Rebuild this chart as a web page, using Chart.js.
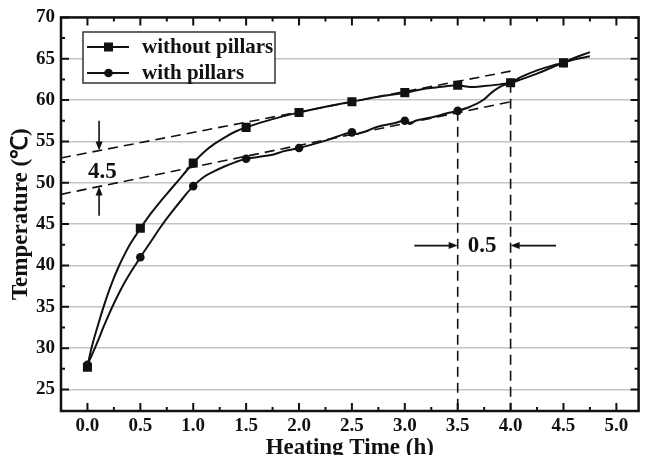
<html>
<head>
<meta charset="UTF-8">
<title>Heating Time vs Temperature</title>
<style>
body { margin: 0; padding: 0; background: white; overflow: hidden; }
canvas { display: block; }
</style>
<script src="https://cdn.jsdelivr.net/npm/chart.js@4.4.0/dist/chart.umd.min.js"></script>
</head>
<body>
<canvas id="canvas" width="645" height="455"></canvas>
<script>
const woTime = [0, 0.025, 0.05, 0.1, 0.15, 0.2, 0.25, 0.3, 0.35, 0.4, 0.45, 0.5, 0.6, 0.7, 0.8, 0.9, 1.0, 1.1, 1.2, 1.3, 1.4, 1.5, 1.75, 2.0, 2.25, 2.5, 2.75, 3.0, 3.2, 3.35, 3.5, 3.6, 3.75, 3.9, 4.0, 4.1, 4.25, 4.4, 4.5, 4.6, 4.75]
const woTemp = [27.7, 29.3, 30.6, 32.8, 34.9, 36.8, 38.5, 40.0, 41.3, 42.5, 43.5, 44.5, 46.3, 47.9, 49.4, 50.9, 52.4, 53.7, 54.7, 55.5, 56.2, 56.7, 57.7, 58.5, 59.2, 59.8, 60.4, 60.9, 61.4, 61.6, 61.8, 61.6, 61.7, 61.9, 62.1, 62.5, 63.2, 64.0, 64.5, 64.9, 65.3]
const wTime = [0, 0.025, 0.05, 0.1, 0.15, 0.2, 0.25, 0.3, 0.35, 0.4, 0.45, 0.5, 0.6, 0.7, 0.8, 0.9, 1.0, 1.1, 1.2, 1.3, 1.4, 1.5, 1.6, 1.75, 1.85, 2.0, 2.25, 2.5, 2.55, 2.75, 2.9, 3.0, 3.05, 3.1, 3.25, 3.4, 3.5, 3.6, 3.67, 3.75, 3.82, 3.9, 4.0, 4.1, 4.25, 4.4, 4.5, 4.6, 4.75]
const wTemp = [28.0, 28.7, 29.4, 30.9, 32.5, 34.0, 35.4, 36.7, 37.9, 39.0, 40.0, 41.0, 42.9, 44.8, 46.5, 48.1, 49.6, 50.7, 51.4, 52.0, 52.5, 52.9, 53.1, 53.4, 53.8, 54.2, 55.1, 56.1, 55.9, 56.8, 57.2, 57.5, 57.1, 57.5, 57.9, 58.4, 58.7, 59.1, 59.5, 60.1, 60.9, 61.6, 62.1, 62.8, 63.6, 64.2, 64.5, 65.1, 65.8]

// symbols every 0.5 h
const markTime = [0, 0.5, 1.0, 1.5, 2.0, 2.5, 3.0, 3.5, 4.0, 4.5]
const woMark = [27.7, 44.5, 52.4, 56.7, 58.5, 59.8, 60.9, 61.8, 62.1, 64.5]
const wMark = [28.0, 41.0, 49.6, 52.9, 54.2, 56.1, 57.5, 58.7, 62.1, 64.5]

// dashed tangent lines and vertical guides
const tanTime = [-0.25, 4.0]
const tanUpper = [53.0, 63.5]
const tanLower = [48.6, 59.8]
const guideTime = [3.5, 4.0]
const guideTop = [58.7, 62.1]

// annotations
const diffText = "4.5", diffPos = [0.14, 51.3]
const diffArrowT = 0.11, diffFrom = [57.5, 46.0], diffTo = [53.9, 49.55]
const lagText = "0.5", lagPos = [3.73, 42.3]
const lagArrowY = 42.4, lagFrom = [3.09, 4.43], lagTo = [3.5, 4.0]

const xTicks = [0, 0.5, 1.0, 1.5, 2.0, 2.5, 3.0, 3.5, 4.0, 4.5, 5.0]
const yTicks = [25, 30, 35, 40, 45, 50, 55, 60, 65, 70]
const xMin = -0.25, xMax = 5.21, yMin = 22.4, yMax = 70

const serif = "'Liberation Serif', 'Times New Roman', serif"
const ink = "#111"

function pts(xs, ys) { return xs.map((x, i) => ({x: x, y: ys[i]})) }

function arrow(ctx, x1, y1, x2, y2) {
    const a = Math.atan2(y2 - y1, x2 - x1)
    ctx.beginPath()
    ctx.moveTo(x1, y1)
    ctx.lineTo(x2 - 6 * Math.cos(a), y2 - 6 * Math.sin(a))
    ctx.stroke()
    ctx.beginPath()
    ctx.moveTo(x2, y2)
    ctx.lineTo(x2 - 9 * Math.cos(a) + 3.5 * Math.sin(a), y2 - 9 * Math.sin(a) - 3.5 * Math.cos(a))
    ctx.lineTo(x2 - 9 * Math.cos(a) - 3.5 * Math.sin(a), y2 - 9 * Math.sin(a) + 3.5 * Math.cos(a))
    ctx.closePath()
    ctx.fill()
}

const framePlugin = {
    id: "frame",
    afterDraw(chart) {
        const ctx = chart.ctx, a = chart.chartArea
        const sx = chart.scales.x, sy = chart.scales.y
        ctx.save()
        ctx.strokeStyle = ink
        ctx.fillStyle = ink
        // inward ticks on all four sides
        ctx.lineWidth = 2
        const xt = []
        xTicks.forEach(v => { xt.push([v, 8]); if (v + 0.25 < xMax) xt.push([v + 0.25, 4]) })
        xt.forEach(([v, len]) => {
            const p = sx.getPixelForValue(v)
            ctx.beginPath()
            ctx.moveTo(p, a.top); ctx.lineTo(p, a.top + len)
            ctx.moveTo(p, a.bottom); ctx.lineTo(p, a.bottom - len)
            ctx.stroke()
        })
        const yt = []
        yTicks.forEach(v => { yt.push([v, 8]); if (v - 2.5 > yMin + 0.5) yt.push([v - 2.5, 4]) })
        yt.forEach(([v, len]) => {
            const p = sy.getPixelForValue(v)
            ctx.beginPath()
            ctx.moveTo(a.left, p); ctx.lineTo(a.left + len, p)
            ctx.moveTo(a.right, p); ctx.lineTo(a.right - len, p)
            ctx.stroke()
        })
        ctx.lineWidth = 2.5
        ctx.strokeRect(a.left, a.top, a.right - a.left, a.bottom - a.top)

        // arrows and labels
        ctx.lineWidth = 1.6
        const ax = sx.getPixelForValue(diffArrowT)
        arrow(ctx, ax, sy.getPixelForValue(diffFrom[0]), ax, sy.getPixelForValue(diffTo[0]))
        arrow(ctx, ax, sy.getPixelForValue(diffFrom[1]), ax, sy.getPixelForValue(diffTo[1]))
        const ay = sy.getPixelForValue(lagArrowY)
        arrow(ctx, sx.getPixelForValue(lagFrom[0]), ay, sx.getPixelForValue(lagTo[0]), ay)
        arrow(ctx, sx.getPixelForValue(lagFrom[1]), ay, sx.getPixelForValue(lagTo[1]), ay)
        ctx.font = "bold 23px " + serif
        ctx.textAlign = "center"
        ctx.textBaseline = "middle"
        ctx.fillText(diffText, sx.getPixelForValue(diffPos[0]), sy.getPixelForValue(diffPos[1]))
        ctx.fillText(lagText, sx.getPixelForValue(lagPos[0]), sy.getPixelForValue(lagPos[1]))

        // legend
        ctx.fillStyle = "white"
        ctx.fillRect(83, 32, 192, 51)
        ctx.lineWidth = 1.5
        ctx.strokeStyle = "#333"
        ctx.strokeRect(83, 32, 192, 51)
        ctx.strokeStyle = ink
        ctx.fillStyle = ink
        const rows = [[chart.data.datasets[0].label, "rect", 47], [chart.data.datasets[1].label, "circle", 73]]
        rows.forEach(([label, shape, y]) => {
            ctx.lineWidth = 2
            ctx.beginPath(); ctx.moveTo(87, y); ctx.lineTo(129, y); ctx.stroke()
            if (shape === "rect") ctx.fillRect(104, y - 4.5, 9, 9)
            else { ctx.beginPath(); ctx.arc(108.5, y, 4.3, 0, Math.PI * 2); ctx.fill() }
            ctx.font = "bold 21px " + serif
            ctx.textAlign = "left"
            ctx.fillText(label, 142, y + 1)
        })
        ctx.restore()
    }
}

const dashed = {borderColor: ink, borderWidth: 1.6, borderDash: [10, 6], pointRadius: 0, fill: false}
const ctx = document.getElementById("canvas").getContext("2d")
const chart = new Chart(ctx, {
    type: "line",
    data: {
        datasets: [
            {label: "without pillars", data: pts(woTime, woTemp), borderColor: ink, borderWidth: 2, pointRadius: 0, tension: 0.4},
            {label: "with pillars", data: pts(wTime, wTemp), borderColor: ink, borderWidth: 2, pointRadius: 0, tension: 0.4},
            {data: pts(markTime, wMark), showLine: false, pointStyle: "circle", pointRadius: 4.3, backgroundColor: ink, borderColor: ink, borderWidth: 0},
            {data: pts(markTime, woMark), showLine: false, pointStyle: "rect", pointRadius: 6.4, backgroundColor: ink, borderColor: ink, borderWidth: 0},
            {data: pts(tanTime, tanUpper), ...dashed},
            {data: pts(tanTime, tanLower), ...dashed},
            {data: [{x: guideTime[0], y: guideTop[0]}, {x: guideTime[0], y: yMin}], ...dashed},
            {data: [{x: guideTime[1], y: guideTop[1]}, {x: guideTime[1], y: yMin}], ...dashed},
        ],
    },
    options: {
        responsive: false,
        animation: false,
        layout: {padding: {top: 14, left: 0, right: 0, bottom: 0}},
        plugins: {legend: {display: false}, tooltip: {enabled: false}},
        scales: {
            x: {
                type: "linear", min: xMin, max: xMax,
                afterBuildTicks: s => { s.ticks = xTicks.map(v => ({value: v})) },
                afterFit: s => { s.height = 44 },
                grid: {display: false, drawTicks: false},
                border: {display: false},
                ticks: {padding: 4, color: ink, font: {family: serif, size: 19, weight: "bold"}, callback: v => v.toFixed(1), maxRotation: 0},
                title: {display: true, text: "Heating Time (h)", color: ink, padding: {top: 0, bottom: -5}, font: {family: serif, size: 23, weight: "bold", lineHeight: 1}},
            },
            y: {
                min: yMin, max: yMax,
                afterBuildTicks: s => { s.ticks = yTicks.map(v => ({value: v})) },
                afterFit: s => { s.width = 61 },
                grid: {color: "#c4c4c4", lineWidth: 1.5, drawTicks: false},
                border: {display: false},
                ticks: {padding: 6, color: ink, font: {family: serif, size: 19, weight: "bold"}},
                title: {display: true, text: "Temperature (℃)", color: ink, padding: {top: 10, bottom: 0}, font: {family: serif, size: 23, weight: "bold", lineHeight: 1}},
            },
        },
    },
    plugins: [framePlugin],
})
</script>
</body>
</html>
